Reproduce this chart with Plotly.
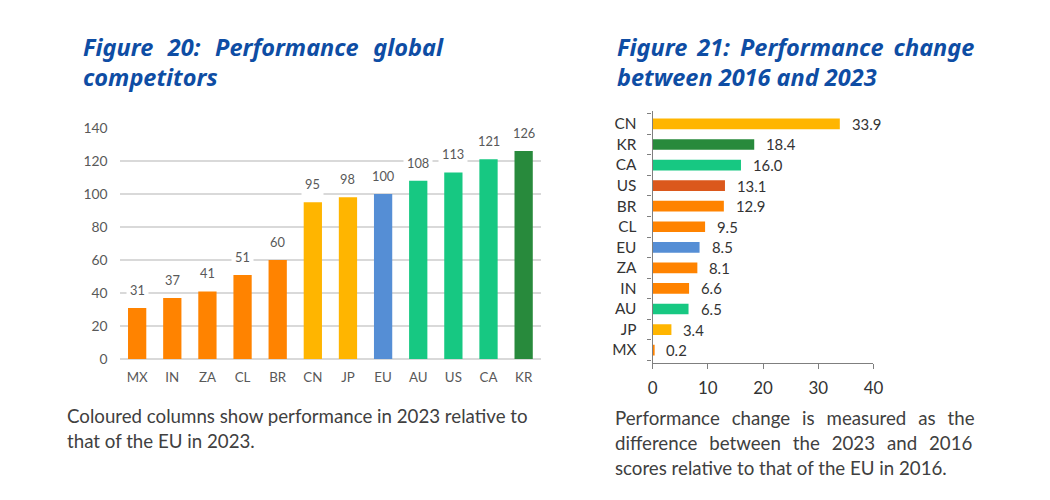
import plotly.graph_objects as go

# ---- Data ----
cats_perf = ["MX", "IN", "ZA", "CL", "BR", "CN", "JP", "EU", "AU", "US", "CA", "KR"]
vals_perf = [31, 37, 41, 51, 60, 95, 98, 100, 108, 113, 121, 126]

cats_change = ["CN", "KR", "CA", "US", "BR", "CL", "EU", "ZA", "IN", "AU", "JP", "MX"]
vals_change = [33.9, 18.4, 16.0, 13.1, 12.9, 9.5, 8.5, 8.1, 6.6, 6.5, 3.4, 0.2]

ORANGE = "#FF8300"
YELLOW = "#FFB500"
BLUE = "#558ED5"
GREEN = "#17C882"
DKGREEN = "#288A3C"
RUST = "#DB581C"

color_map = {"MX": ORANGE, "IN": ORANGE, "ZA": ORANGE, "CL": ORANGE, "BR": ORANGE,
             "CN": YELLOW, "JP": YELLOW, "EU": BLUE, "AU": GREEN, "US": GREEN,
             "CA": GREEN, "KR": DKGREEN}
colors_perf = [color_map[c] for c in cats_perf]
color_map2 = dict(color_map)
color_map2["US"] = RUST
colors_change = [color_map2[c] for c in cats_change]

# page geometry: 8px body margin and a slight capture scale
OFF = 8
SX, SY = 0.9817, 0.968
W, H = 1050 - 2 * OFF, 500 - 2 * OFF
def fx(px):
    return (px / SX - OFF) / W
def fy(py):
    return 1 - (py / SY - OFF) / H
def fs(s):
    return round(s / 0.975, 2)

FONT = "Lato"
TXT = "#595959"
DARK = "#333333"
TITLE_C = "#0E4DA4"

fig = go.Figure()

fig.add_trace(go.Bar(x=cats_perf, y=vals_perf, marker_color=colors_perf,
                     marker_line_width=0, xaxis="x", yaxis="y", width=0.52,
                     hoverinfo="x+y"))
fig.add_trace(go.Bar(x=vals_change, y=cats_change, orientation="h",
                     marker_color=colors_change, marker_line_width=0,
                     xaxis="x2", yaxis="y2", width=0.52, hoverinfo="x+y"))

annotations = []
for c, v in zip(cats_perf, vals_perf):
    annotations.append(dict(x=c, y=v, xref="x", yref="y", text=str(v),
                            showarrow=False, yanchor="bottom", yshift=6,
                            bgcolor="white", borderpad=3,
                            font=dict(family=FONT, size=fs(12.5), color=TXT)))
for c, v in zip(cats_change, vals_change):
    annotations.append(dict(x=v, y=c, xref="x2", yref="y2", text=f"{v:.1f}",
                            showarrow=False, xanchor="left", xshift=8,
                            bgcolor="white", borderpad=3,
                            font=dict(family=FONT, size=fs(14.5), color=DARK)))

title_font = dict(family="Noto Sans", size=23.5, color=TITLE_C, weight=700, style="italic")
NB = "\u00a0"
annotations += [
    dict(x=fx(84), y=fy(46), xref="paper", yref="paper", xanchor="left", yanchor="middle",
         text=(NB * 2 + "\u200a").join(["Figure", "20:", "Performance", "global"]),
         showarrow=False, font=title_font),
    dict(x=fx(84), y=fy(76), xref="paper", yref="paper", xanchor="left", yanchor="middle",
         text="competitors", showarrow=False, font=title_font),
    dict(x=fx(616), y=fy(46), xref="paper", yref="paper", xanchor="left", yanchor="middle",
         text=(NB + "\u2009").join(["Figure", "21:", "Performance", "change"]),
         showarrow=False, font=title_font),
    dict(x=fx(616), y=fy(76), xref="paper", yref="paper", xanchor="left", yanchor="middle",
         text="between 2016 and 2023", showarrow=False, font=title_font),
]
cap_font = dict(family=FONT, size=18.7, color="#404040")
G2 = NB * 2 + "\u2009"
annotations += [
    dict(x=fx(68), y=fy(416), xref="paper", yref="paper", xanchor="left", yanchor="middle",
         text="Coloured columns show performance in 2023 relative to", showarrow=False, font=cap_font),
    dict(x=fx(68), y=fy(441), xref="paper", yref="paper", xanchor="left", yanchor="middle",
         text="that of the EU in 2023.", showarrow=False, font=cap_font),
    dict(x=fx(614), y=fy(418), xref="paper", yref="paper", xanchor="left", yanchor="middle",
         text=G2.join(["Performance", "change", "is", "measured", "as", "the"]),
         showarrow=False, font=cap_font),
    dict(x=fx(614), y=fy(443), xref="paper", yref="paper", xanchor="left", yanchor="middle",
         text=G2.join(["difference", "between", "the", "2023", "and", "2016"]),
         showarrow=False, font=cap_font),
    dict(x=fx(614), y=fy(468), xref="paper", yref="paper", xanchor="left", yanchor="middle",
         text="scores relative to that of the EU in 2016.", showarrow=False, font=cap_font),
]

fig.update_layout(
    width=W, height=H, margin=dict(l=0, r=0, t=0, b=0),
    paper_bgcolor="white", plot_bgcolor="white", showlegend=False,
    bargap=0.48,
    font=dict(family=FONT, color=TXT),
    xaxis=dict(domain=[fx(122), fx(542)], anchor="y", type="category",
               categoryorder="array", categoryarray=cats_perf,
               showline=False, showgrid=False, ticks="",
               tickfont=dict(size=fs(13), color=TXT), ticklabelstandoff=9),
    yaxis=dict(domain=[fy(359), fy(127)], anchor="x", range=[0, 140], dtick=20,
               showgrid=True, gridcolor="#D9D9D9", gridwidth=1.5,
               zeroline=True, zerolinecolor="#D9D9D9", zerolinewidth=1.5,
               showline=False, ticks="", tickfont=dict(size=fs(13.5), color=TXT),
               ticklabelstandoff=11),
    xaxis2=dict(domain=[fx(653), fx(873)], anchor="y2", range=[0, 40], dtick=10,
                showgrid=False, zeroline=False, showline=True, linecolor="#7F7F7F",
                linewidth=1.3, ticks="outside", ticklen=5, tickcolor="#7F7F7F",
                tickfont=dict(size=fs(16.5), color=DARK), ticklabelstandoff=4),
    yaxis2=dict(domain=[fy(363), fy(110)], anchor="x2", type="category",
                categoryorder="array", categoryarray=cats_change[::-1],
                showgrid=False, zeroline=False, showline=True, linecolor="#7F7F7F",
                linewidth=1.3, ticks="outside", ticklen=4, tickcolor="#7F7F7F",
                tickson="boundaries", tickfont=dict(size=fs(15), color=DARK),
                ticklabelstandoff=12),
    annotations=annotations,
)

fig.write_html("out.html")
